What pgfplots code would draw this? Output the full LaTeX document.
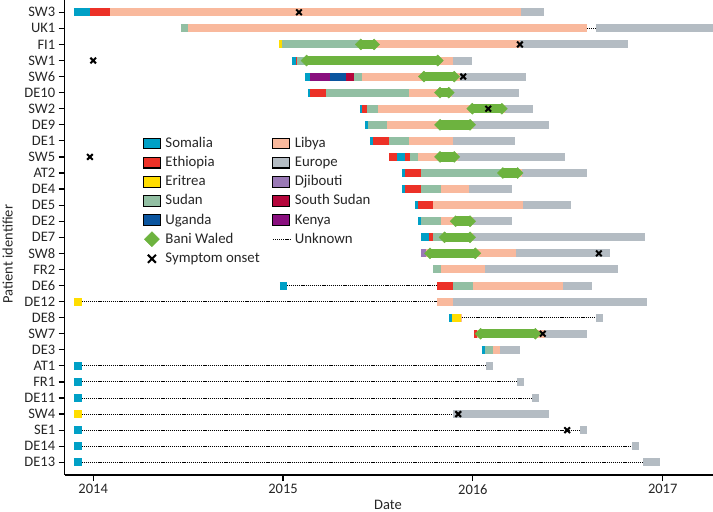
\documentclass[border=0pt]{standalone}
\usepackage{fontspec}
\setmainfont{Carlito}
\usepackage{pgfplots}
\usepackage{pgfplotstable}
\pgfplotsset{compat=1.18}

\definecolor{csomalia}{HTML}{00A0C6}
\definecolor{cethiopia}{HTML}{EC3127}
\definecolor{ceritrea}{HTML}{FFDD00}
\definecolor{csudan}{HTML}{92BFA3}
\definecolor{cuganda}{HTML}{0B559F}
\definecolor{clibya}{HTML}{F9B99D}
\definecolor{ceurope}{HTML}{B4BCC3}
\definecolor{cdjibouti}{HTML}{9A79B6}
\definecolor{cssudan}{HTML}{B4063B}
\definecolor{ckenya}{HTML}{890F7E}
\definecolor{cbani}{HTML}{6DB33F}

\pgfplotstableread{
s e y
2013.898 2013.983 1
2015.047 2015.066 4
2015.117 2015.142 5
2015.131 2015.142 6
2015.405 2015.414 7
2015.432 2015.446 8
2015.458 2015.475 9
2015.602 2015.644 10
2015.626 2015.644 11
2015.626 2015.644 12
2015.697 2015.709 13
2015.712 2015.727 14
2015.727 2015.767 15
2014.984 2015.019 18
2015.876 2015.888 20
2016.046 2016.064 22
2013.898 2013.939 23
2013.898 2013.939 24
2013.898 2013.939 25
2013.898 2013.939 27
2013.898 2013.939 28
2013.898 2013.939 29
}\tsomalia

\pgfplotstableread{
s e y
2014.980 2014.993 3
2013.898 2013.939 19
2015.888 2015.936 20
2013.898 2013.939 26
}\teritrea

\pgfplotstableread{
s e y
2013.983 2014.088 1
2015.066 2015.076 4
2015.142 2015.226 6
2015.414 2015.444 7
2015.475 2015.559 9
2015.560 2015.602 10
2015.644 2015.669 10
2015.644 2015.727 11
2015.644 2015.727 12
2015.709 2015.791 13
2015.767 2015.791 15
2015.812 2015.894 18
2016.006 2016.023 21
}\tethiopia

\pgfplotstableread{
s e y
2014.460 2014.500 2
2014.993 2015.420 3
2015.076 2015.600 4
2015.374 2015.414 5
2015.226 2015.665 6
2015.444 2015.498 7
2015.446 2015.549 8
2015.559 2015.665 9
2015.669 2015.709 10
2015.727 2016.150 11
2015.727 2015.832 12
2015.727 2015.832 14
2015.791 2015.840 15
2015.791 2015.832 17
2015.894 2016.000 18
2016.064 2016.104 22
}\tsudan

\pgfplotstableread{
s e y
2015.247 2015.331 5
}\tuganda

\pgfplotstableread{
s e y
2015.331 2015.374 5
}\tssudan

\pgfplotstableread{
s e y
2015.142 2015.247 5
}\tkenya

\pgfplotstableread{
s e y
2015.727 2015.753 16
}\tdjibouti

\pgfplotstableread{
s e y
2014.088 2016.252 1
2014.500 2016.600 2
2015.420 2016.248 3
2015.600 2015.894 4
2015.414 2015.930 5
2015.665 2015.890 6
2015.498 2016.170 7
2015.549 2016.000 8
2015.665 2015.894 9
2015.709 2015.920 10
2016.150 2016.260 11
2015.832 2015.979 12
2015.791 2016.266 13
2015.832 2016.000 14
2015.840 2016.000 15
2015.753 2016.227 16
2015.832 2016.064 17
2016.000 2016.476 18
2015.812 2015.894 19
2015.936 2015.941 20
2016.023 2016.380 21
2016.104 2016.143 22
}\tlibya

\pgfplotstableread{
s e y
2016.252 2016.375 1
2016.649 2017.350 2
2016.248 2016.819 3
2015.894 2015.997 4
2015.930 2016.278 5
2015.890 2016.244 6
2016.170 2016.318 7
2016.000 2016.403 8
2015.894 2016.222 9
2015.920 2016.485 10
2016.260 2016.602 11
2015.979 2016.208 12
2016.266 2016.515 13
2016.000 2016.208 14
2016.000 2016.907 15
2016.227 2016.721 16
2016.064 2016.766 17
2016.476 2016.626 18
2015.894 2016.919 19
2016.649 2016.684 20
2016.380 2016.601 21
2016.143 2016.248 22
2016.069 2016.104 23
2016.231 2016.269 24
2016.311 2016.348 25
2015.897 2016.403 26
2016.564 2016.600 27
2016.840 2016.877 28
2016.898 2016.986 29
}\teurope

\pgfplotstableread{
s e y
2016.600 2016.649 2
2015.019 2015.812 18
2013.939 2015.812 19
2015.941 2016.649 20
2013.939 2016.069 23
2013.939 2016.231 24
2013.939 2016.311 25
2013.939 2015.897 26
2013.939 2016.564 27
2013.939 2016.840 28
2013.939 2016.898 29
}\tunknown

\pgfplotstableread{
s e y
2015.410 2015.480 3
2015.124 2015.815 4
2015.742 2015.902 5
2015.827 2015.873 6
2015.997 2016.153 7
2015.827 2015.985 8
2015.827 2015.902 10
2016.158 2016.236 11
2015.909 2015.985 14
2015.851 2015.985 15
2015.774 2016.013 16
2016.041 2016.329 21
}\tbani

\pgfplotstableread{
x y
2015.084 1
2016.248 3
2014.000 4
2015.949 5
2016.081 7
2013.983 10
2016.664 16
2016.368 21
2015.923 26
2016.497 27
}\tonset

\pgfplotsset{
  seg/.style={forget plot, line width=8bp, line cap=butt,
    quiver={u=\thisrow{e}-\thisrow{s}, v=0}},
  boxleg/.style={legend image code/.code={%
    \draw[fill=#1, draw=black, line width=1.1bp] (0bp,-5.2bp) rectangle (17bp,5.2bp);}},
}

\begin{document}
\begin{tikzpicture}
\begin{axis}[
  scale only axis,
  width=648.3bp, height=475bp,
  xmin=2013.85, xmax=2017.265,
  ymin=0.235, ymax=29.79,
  y dir=reverse,
  axis x line*=bottom, axis y line*=left,
  axis line style={line width=1.2bp, -},
  tick style={line width=1.2bp, black},
  tick align=outside,
  major tick length=6bp,
  xtick={2014,2015,2016,2017},
  xticklabels={2014,2015,2016,2017},
  ytick={1,...,29},
  yticklabels={SW3,UK1,FI1,SW1,SW6,DE10,SW2,DE9,DE1,SW5,AT2,DE4,DE5,DE2,DE7,SW8,FR2,DE6,DE12,DE8,SW7,DE3,AT1,FR1,DE11,SW4,SE1,DE14,DE13},
  ticklabel style={font=\fontsize{14.5bp}{16bp}\selectfont, text=black!85},
  label style={font=\fontsize{14.5bp}{16bp}\selectfont, text=black!85},
  xlabel={Date},
  ylabel={Patient identifier},
  xlabel style={at={(axis description cs:0.4987,-0.063)}, anchor=center},
  ylabel style={at={(axis description cs:-0.088,0.465)}, anchor=center},
  clip=true,
  legend style={at={(axis description cs:0.1203,0.718)}, anchor=north west,
    draw=none, fill=none, inner sep=0pt,
    font=\fontsize{14.8bp}{16bp}\selectfont,
    nodes={inner sep=1.5bp, text height=12bp, text depth=4.1bp, text=black!85},
    row sep=0pt,
    /tikz/every odd column/.append style={column sep=3bp},
    /tikz/every even column/.append style={column sep=11bp}},
  legend columns=2,
  legend cell align=left,
]
% unknown dotted
\addplot[forget plot, black, line width=1bp, dash pattern=on 1.2bp off 0.9bp,
  quiver={u=\thisrow{e}-\thisrow{s}, v=0}] table[x=s,y=y] {\tunknown};
% country segments
\addplot[seg, draw=clibya] table[x=s,y=y] {\tlibya};
\addplot[seg, draw=ceurope] table[x=s,y=y] {\teurope};
\addplot[seg, draw=csudan] table[x=s,y=y] {\tsudan};
\addplot[seg, draw=cethiopia] table[x=s,y=y] {\tethiopia};
\addplot[seg, draw=csomalia] table[x=s,y=y] {\tsomalia};
\addplot[seg, draw=ceritrea] table[x=s,y=y] {\teritrea};
\addplot[seg, draw=cuganda] table[x=s,y=y] {\tuganda};
\addplot[seg, draw=cssudan] table[x=s,y=y] {\tssudan};
\addplot[seg, draw=ckenya] table[x=s,y=y] {\tkenya};
\addplot[seg, draw=cdjibouti] table[x=s,y=y] {\tdjibouti};
% Bani Waled
\addplot[seg, draw=cbani, line width=9.5bp] table[x=s,y=y] {\tbani};
\addplot[forget plot, only marks, mark=square*, mark size=3.9bp, mark options={rotate=45}, cbani, draw=cbani] table[x=s,y=y] {\tbani};
\addplot[forget plot, only marks, mark=square*, mark size=3.9bp, mark options={rotate=45}, cbani, draw=cbani] table[x=e,y=y] {\tbani};
% symptom onset
\addplot[forget plot, only marks, mark=x, mark size=4bp, line width=2bp, black] table[x=x,y=y] {\tonset};

% legend (row-major, 2 columns)
\addlegendimage{boxleg=csomalia}\addlegendentry{Somalia}
\addlegendimage{boxleg=clibya}\addlegendentry{Libya}
\addlegendimage{boxleg=cethiopia}\addlegendentry{Ethiopia}
\addlegendimage{boxleg=ceurope}\addlegendentry{Europe}
\addlegendimage{boxleg=ceritrea}\addlegendentry{Eritrea}
\addlegendimage{boxleg=cdjibouti}\addlegendentry{Djibouti}
\addlegendimage{boxleg=csudan}\addlegendentry{Sudan}
\addlegendimage{boxleg=cssudan}\addlegendentry{South Sudan}
\addlegendimage{boxleg=cuganda}\addlegendentry{Uganda}
\addlegendimage{boxleg=ckenya}\addlegendentry{Kenya}
\addlegendimage{legend image code/.code={\fill[cbani] (8.5bp,7.5bp) -- (16bp,0bp) -- (8.5bp,-7.5bp) -- (1bp,0bp) -- cycle;}}\addlegendentry{Bani Waled}
\addlegendimage{legend image code/.code={\draw[black, line width=1bp, dash pattern=on 1.2bp off 0.9bp] (0bp,0bp) -- (17bp,0bp);}}\addlegendentry{Unknown}
\addlegendimage{legend image code/.code={\draw[black, line width=2bp] (4.5bp,-4.5bp) -- (12.5bp,3.5bp) (4.5bp,3.5bp) -- (12.5bp,-4.5bp);}}\addlegendentry{Symptom onset}
\end{axis}
\pgfresetboundingbox
\path ([xshift=-64.7bp,yshift=-37bp]current axis.south west) rectangle (current axis.north east);
\end{tikzpicture}
\end{document}
